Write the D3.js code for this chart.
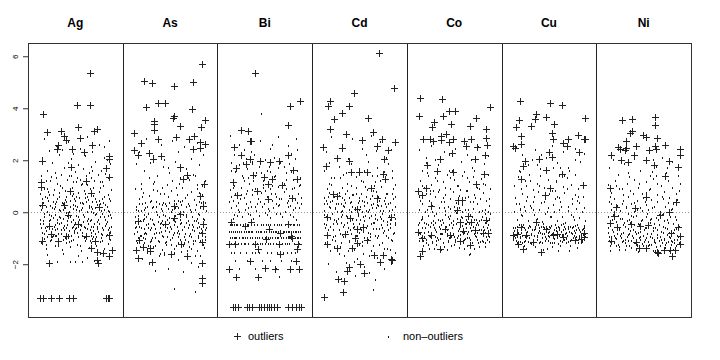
<!DOCTYPE html>
<html><head><meta charset="utf-8">
<script src="https://cdn.jsdelivr.net/npm/d3@7"></script>
<style>body{margin:0;background:#fff}text{font-family:"Liberation Sans",Arial,sans-serif}</style>
</head><body>
<svg id="c" width="720" height="360"></svg>
<script>
const elements = ["Ag","As","Bi","Cd","Co","Cu","Ni"];
const yTicks = [-2,0,2,4,6];
const legendLabels = ["outliers","non\u2013outliers"];
// [jitter (percent of panel width), value]
const agOut = [[15,5.36],[2,4.14],[15,4.14],[-34,3.78],[-30,3.09],[-15,3.13],[3,3.27],[23,3.21],[-12,2.92],[-10,2.79],[5,2.85],[20,3.12],[-18,2.58],[18,2.6],[-4,2.42],[9,2.32],[-19,2.45],[-35,1.96],[35,2.15],[35,2.06],[-5,1.73],[32,1.72],[35,1.36],[11,1.19],[-36,1.17],[-36,0.96],[-6,0.82],[17,0.74],[-35,0.26],[-12,0.27],[25,0.19],[-8,-0.12],[3,-0.47],[-28,-0.54],[36,-0.86],[-26,-0.85],[-10,-0.91],[11,-0.91],[-35,-1.12],[-18,-1.1],[21,-1.12],[17,-1.36],[39,-1.45],[29,-1.55],[23,-1.53],[35,-1.68],[23,-1.85],[24,-1.97],[-28,-1.95],[-37,-3.31],[-34,-3.31],[-26,-3.31],[-17,-3.31],[-7,-3.31],[-2,-3.31],[32,-3.31],[34,-3.31],[36,-3.31]];
const asOut = [[34,5.72],[-28,5.03],[-19,4.97],[4,4.86],[24,5.01],[-25,4.05],[-13,4.21],[-5,4.22],[23,3.99],[4,3.69],[3,3.62],[-17,3.51],[-17,3.41],[37,3.56],[11,3.33],[33,3.27],[-17,3.17],[-38,3.05],[6,2.9],[25,2.92],[20,2.83],[-13,2.81],[-31,2.68],[32,2.71],[37,2.64],[-38,2.4],[-22,2.27],[-34,2.19],[-10,2.15],[24,2.45],[32,2.47],[-18,2.04],[11,1.74],[18,1.45],[14,1.26],[36,1.1],[32,0.63],[4,0.24],[35,0.24],[10,-0.08],[4,-0.24],[-34,-0.32],[35,-0.45],[-5,-0.47],[34,-0.79],[-33,-1.05],[12,-1.21],[34,-1.14],[-29,-1.32],[-21,-1.37],[-36,-1.47],[-21,-1.51],[1,-1.62],[18,-1.67],[-34,-1.76],[-19,-1.91],[34,-1.96],[34,-2.53],[34,-2.72]];
const biOut = [[-10,5.36],[37,4.27],[27,4.08],[25,3.36],[-25,3.15],[-18,3.12],[-16,2.74],[-15,2.74],[-33,2.5],[-25,2.21],[-16,2.06],[-5,1.97],[5,1.92],[15,1.99],[24,2.19],[-30,1.72],[-20,1.85],[30,1.64],[-12,1.45],[-1,1.37],[8,1.29],[34,1.29],[-34,1.15],[3,1.09],[18,1.04],[-8,0.83],[-29,0.65],[29,0.53],[3,0.5],[-36,-0.37],[-15,-0.37],[25,-0.47],[-21,-0.54],[4,-0.63],[16,-0.78],[28,-0.91],[-38,-1.21],[-31,-1.21],[-10,-1.21],[15,-1.21],[35,-1.21],[1,-1.04],[29,-1.01],[-7,-1.4],[34,-1.4],[16,-1.62],[-16,-1.86],[33,-1.86],[-38,-2.17],[0,-2.15],[11,-2.17],[27,-2.17],[36,-2.17],[-30,-2.5],[-7,-2.5],[-34,-3.64],[-31,-3.64],[-28,-3.64],[-19,-3.64],[-17,-3.64],[-14,-3.64],[-6,-3.64],[-4,-3.64],[-1,-3.64],[2,-3.64],[4,-3.64],[7,-3.64],[10,-3.64],[13,-3.64],[25,-3.64],[29,-3.64],[33,-3.64],[36,-3.64],[38,-3.64]];
const cdOut = [[21,6.13],[36,4.77],[-6,4.6],[-31,4.28],[-33,4.08],[-11,4.08],[-19,3.82],[-27,3.58],[9,3.62],[-31,3.19],[14,3.09],[-14,3.0],[3,2.76],[24,2.81],[37,2.72],[-39,2.5],[-19,2.47],[18,2.55],[30,2.38],[26,2.03],[-11,1.97],[-24,2.08],[-35,1.77],[-9,1.55],[0,1.55],[8,1.55],[25,1.46],[27,1.28],[12,0.95],[-28,0.71],[-24,0.63],[18,0.53],[-3,0.14],[-34,-0.18],[33,-0.18],[-10,-0.24],[-3,-0.63],[4,-0.56],[-34,-0.88],[-15,-0.82],[-5,-1.01],[8,-1.05],[-34,-1.22],[-24,-1.36],[-8,-1.36],[-3,-1.18],[15,-1.65],[25,-1.65],[33,-1.78],[34,-1.85],[22,-1.91],[1,-2.01],[-11,-2.1],[-13,-2.26],[5,-2.32],[-23,-2.55],[-16,-2.63],[-17,-3.05],[-38,-3.27]];
const coOut = [[-36,4.4],[-13,4.37],[-37,3.71],[-12,3.71],[-5,3.9],[1,3.9],[38,4.04],[-21,3.47],[-23,3.27],[-3,3.4],[23,3.62],[17,3.31],[34,3.19],[-33,2.81],[-26,2.83],[-22,2.74],[-14,2.94],[-9,3.0],[-14,2.79],[-6,2.71],[-1,2.83],[10,2.73],[18,2.81],[34,2.86],[12,2.55],[24,2.5],[35,2.6],[-2,2.28],[-15,2.06],[22,2.06],[33,2.19],[-29,1.81],[-1,1.55],[-18,1.58],[31,1.49],[23,1.09],[-30,0.94],[-38,0.82],[-34,0.65],[4,0.46],[8,0.46],[-25,0.23],[3,0.08],[15,-0.15],[6,-0.37],[18,-0.37],[34,-0.28],[-10,-0.63],[9,-0.72],[22,-0.67],[30,-0.78],[36,-0.79],[-38,-0.76],[-24,-0.86],[-34,-1.01],[-4,-0.86],[6,-1.09],[-34,-1.5],[-36,-1.69],[-15,-1.4],[17,-1.27]];
const cuOut = [[-31,4.26],[1,4.19],[14,4.14],[-14,3.78],[-3,3.68],[38,3.63],[-32,3.55],[-15,3.59],[5,3.4],[-35,3.27],[-19,3.33],[-30,2.92],[-30,2.63],[3,3.06],[4,2.81],[31,2.96],[20,2.81],[15,2.68],[19,2.53],[38,2.81],[37,2.83],[-38,2.53],[-36,2.47],[32,2.33],[0,2.32],[-10,2.04],[3,2.13],[-25,1.97],[-27,1.77],[-3,1.64],[-29,1.26],[14,1.49],[1,0.95],[-4,0.65],[36,1.04],[-14,-0.37],[-29,-0.56],[-34,-0.82],[-24,-0.88],[-3,-0.63],[8,-0.82],[4,-0.88],[15,-0.95],[27,-1.08],[37,-0.78],[37,-0.95],[-38,-0.88],[-33,-1.23],[-27,-1.4],[-17,-1.14],[-8,-1.53],[34,-1.04]];
const niOut = [[-23,3.53],[-12,3.6],[12,3.65],[12,3.35],[-14,3.06],[-12,3.12],[-1,2.97],[3,2.88],[14,2.85],[-19,2.73],[-27,2.51],[-25,2.45],[-19,2.47],[-20,2.38],[-8,2.53],[12,2.53],[13,2.42],[6,2.4],[23,2.59],[38,2.42],[38,2.21],[-34,2.22],[-10,2.22],[-24,2.0],[-16,1.94],[3,2.0],[27,1.96],[11,1.81],[36,1.74],[23,1.4],[-36,0.94],[3,0.59],[34,0.4],[-29,0.21],[-9,0.18],[17,-0.09],[-31,-0.14],[-36,-0.41],[-13,-0.44],[5,-0.5],[-4,-0.54],[27,0.01],[36,-0.56],[29,-0.78],[-34,-1.12],[-8,-1.14],[38,-0.92],[38,-1.21],[-5,-1.37],[3,-1.37],[14,-1.53],[15,-1.56],[21,-1.46],[28,-1.46],[33,-1.44],[30,-1.69],[-28,-0.56]];

const agDots = [[-33,2.8],[-20,2.55],[-8,2.7],[5,2.45],[12,2.9],[25,2.6],[36,2.75],[-28,2.35],[18,2.3],[-14,2.4],[30,2.5],[-35,2.1],[-25,1.9],[-17,2.2],[-5,2.05],[3,1.8],[10,2.15],[21,1.95],[33,2.0],[-30,1.6],[-12,1.7],[0,1.55],[8,1.65],[17,1.75],[27,1.6],[37,1.85],[-22,1.5],[14,1.5],[-2,2.25],[-36,1.4],[-31,1.2],[-26,1.35],[-19,1.1],[-15,1.45],[-9,1.25],[-4,0.95],[2,1.3],[6,1.05],[11,1.4],[15,0.9],[20,1.2],[24,1.45],[29,1.0],[34,1.3],[38,0.85],[-33,0.9],[-23,0.85],[-11,0.8],[1,1.15],[9,0.82],[19,0.95],[26,1.15],[-7,1.38],[31,1.48],[-37,0.7],[-34,0.35],[-30,0.55],[-27,0.25],[-24,0.65],[-20,0.4],[-17,0.75],[-13,0.3],[-10,0.6],[-6,0.45],[-3,0.7],[0,0.25],[4,0.55],[7,0.35],[10,0.72],[13,0.48],[16,0.22],[19,0.62],[22,0.38],[25,0.78],[28,0.5],[31,0.28],[34,0.66],[37,0.42],[-21,0.2],[-1,0.5],[12,0.6],[-29,0.78],[23,0.27],[3,0.75],[-36,0.1],[-33,-0.2],[-30,0.0],[-28,-0.35],[-25,0.15],[-22,-0.1],[-19,-0.3],[-16,0.05],[-13,-0.25],[-11,0.18],[-8,-0.05],[-5,-0.38],[-2,0.12],[1,-0.15],[4,-0.3],[6,0.08],[9,-0.2],[12,0.0],[15,-0.33],[18,0.14],[21,-0.12],[24,-0.28],[27,0.06],[30,-0.18],[33,-0.36],[36,0.02],[38,-0.22],[-34,-0.32],[-9,-0.15],[8,-0.38],[19,-0.02],[-24,-0.22],[2,0.19],[28,-0.05],[-17,-0.18],[-37,-0.45],[-35,-0.8],[-32,-0.6],[-30,-0.95],[-28,-0.5],[-26,-0.75],[-23,-0.55],[-21,-0.9],[-19,-0.65],[-17,-0.45],[-15,-0.85],[-13,-0.6],[-11,-0.98],[-9,-0.5],[-7,-0.72],[-5,-0.9],[-3,-0.55],[-1,-0.8],[1,-0.62],[3,-0.95],[5,-0.48],[7,-0.78],[9,-0.58],[11,-0.88],[13,-0.46],[15,-0.7],[17,-0.92],[19,-0.55],[21,-0.82],[23,-0.64],[25,-0.44],[27,-0.98],[29,-0.7],[31,-0.52],[33,-0.86],[35,-0.6],[37,-0.76],[-25,-0.97],[0,-0.42],[16,-0.58],[-36,-1.2],[-31,-1.4],[-27,-1.1],[-22,-1.3],[-18,-1.05],[-14,-1.45],[-10,-1.18],[-6,-1.35],[-2,-1.08],[2,-1.25],[6,-1.48],[10,-1.12],[14,-1.38],[18,-1.02],[22,-1.28],[26,-1.15],[30,-1.42],[34,-1.22],[37,-1.05],[-33,-1.02],[-30,-1.65],[-19,-1.92],[-13,-1.6],[-6,-1.9],[3,-1.7],[0,-1.92],[7,-1.9],[12,-1.75],[20,-1.88],[26,-1.6]];
const agCore = [[-36,-0.62],[-33,-0.08],[-31,-0.72],[-29,0.42],[-27,-0.3],[-25,-0.66],[-23,0.12],[-21,-0.48],[-19,0.52],[-18,-0.82],[-16,-0.22],[-14,0.35],[-12,-0.7],[-10,-0.02],[-8,-0.88],[-6,0.2],[-4,-0.6],[-2,-0.28],[0,0.45],[2,-0.78],[4,0.05],[6,-0.52],[8,0.3],[10,-0.95],[12,-0.35],[14,0.15],[16,-0.8],[18,0.4],[20,-0.45],[22,-0.05],[24,-0.75],[26,0.32],[28,-0.62],[30,0.1],[32,-0.9],[34,-0.15],[36,0.5],[38,-0.55],[-37,0.25],[-35,-1.0],[-32,0.6],[-28,-0.12],[-26,-1.05],[-24,0.38],[-20,-0.92],[-17,0.1],[-15,-0.42],[-13,-1.08],[-11,0.48],[-9,-0.32],[-7,0.0],[-5,-1.12],[-3,0.28],[-1,-0.5],[1,0.58],[3,-0.18],[5,-0.68],[7,0.18],[9,-1.0],[11,0.4],[13,-0.25],[15,-1.1],[17,0.02],[19,-0.72],[21,0.5],[23,-0.38],[25,0.08],[27,-0.85],[29,0.36],[31,-0.3],[33,0.22],[35,-1.02],[37,-0.1],[-34,-0.45],[-22,-0.7],[-10,-0.6],[0,-0.65],[10,-0.6],[22,-0.95],[34,-0.7],[-30,0.9],[-16,1.0],[-3,1.15],[12,1.05],[26,0.95],[-20,1.3],[5,1.25],[18,1.6],[-8,1.9],[30,2.1]];
const agMore = [[-37.5,-0.3],[-35.5,0.5],[-33.5,-0.85],[-31.5,0.2],[-29.5,-0.55],[-27.5,0.65],[-25.5,-0.15],[-23.5,-0.92],[-21.5,0.3],[-19.5,-0.4],[-17.5,0.58],[-15.5,-0.7],[-13.5,0.08],[-11.5,-0.52],[-9.5,0.38],[-7.5,-1.0],[-5.5,-0.2],[-3.5,0.62],[-1.5,-0.72],[0.5,0.1],[2.5,-0.42],[4.5,0.35],[6.5,-0.9],[8.5,-0.1],[10.5,0.55],[12.5,-0.65],[14.5,0.25],[16.5,-0.3],[18.5,-0.95],[20.5,0.15],[22.5,-0.55],[24.5,0.45],[26.5,-0.2],[28.5,-0.88],[30.5,0.6],[32.5,-0.45],[34.5,0.05],[36.5,-0.8],[-36.5,1.0],[-26.5,1.2],[-14.5,0.95],[-4.5,1.4],[6.5,1.1],[16.5,1.3],[28.5,1.15],[-30.5,-1.25],[-18.5,-1.3],[-6.5,-1.15],[4.5,-1.3],[16.5,-1.2],[28.5,-1.1]];
const asDots = [[-25,2.8],[-10,2.6],[2,2.75],[15,2.5],[28,2.65],[-33,2.3],[-18,2.15],[8,2.3],[22,2.05],[35,2.2],[-36,1.85],[-28,1.6],[-21,1.9],[-14,1.4],[-7,1.75],[-1,1.5],[5,1.95],[11,1.3],[17,1.65],[24,1.45],[31,1.8],[37,1.2],[-31,1.1],[-17,1.15],[-3,1.05],[9,1.1],[20,1.25],[28,1.05],[-37,0.9],[-33,0.5],[-29,0.75],[-26,0.35],[-22,0.62],[-18,0.85],[-15,0.4],[-11,0.7],[-8,0.95],[-5,0.32],[-2,0.6],[1,0.82],[4,0.45],[7,0.68],[10,0.38],[13,0.92],[16,0.55],[19,0.3],[22,0.78],[25,0.48],[28,0.88],[31,0.4],[34,0.65],[37,0.35],[-20,0.42],[-36,0.2],[-34,-0.15],[-31,0.05],[-29,-0.28],[-26,0.15],[-23,-0.05],[-21,-0.25],[-18,0.22],[-15,0.0],[-12,-0.2],[-10,0.12],[-7,-0.1],[-4,0.25],[-1,-0.22],[2,0.08],[5,-0.15],[8,0.18],[11,-0.28],[14,0.02],[17,-0.12],[20,0.24],[23,-0.2],[26,0.1],[29,-0.08],[32,0.16],[35,-0.25],[38,0.04],[-8,0.28],[12,0.26],[-27,-0.1],[-37,-0.4],[-35,-0.75],[-33,-0.55],[-31,-0.92],[-29,-0.35],[-27,-0.65],[-25,-0.85],[-23,-0.45],[-21,-0.7],[-19,-0.98],[-17,-0.5],[-15,-0.8],[-13,-0.38],[-11,-0.62],[-9,-0.9],[-7,-0.48],[-5,-0.72],[-3,-0.95],[-1,-0.42],[1,-0.66],[3,-0.88],[5,-0.36],[7,-0.58],[9,-0.82],[11,-0.46],[13,-0.7],[15,-0.96],[17,-0.4],[19,-0.6],[21,-0.84],[23,-0.5],[25,-0.74],[27,-0.32],[29,-0.9],[31,-0.56],[33,-0.78],[35,-0.44],[37,-0.68],[-20,-0.6],[8,-0.72],[-36,-1.1],[-32,-1.35],[-28,-1.2],[-24,-1.55],[-20,-1.05],[-16,-1.3],[-12,-1.15],[-8,-1.45],[-4,-1.25],[0,-1.05],[4,-1.4],[8,-1.18],[12,-1.52],[16,-1.08],[20,-1.32],[24,-1.22],[28,-1.5],[32,-1.12],[36,-1.38],[-26,-1.02],[14,-1.28],[-6,-1.58],[-30,-1.8],[-22,-2.0],[-12,-1.7],[-2,-2.2],[8,-1.85],[14,-2.3],[22,-1.95],[30,-2.1],[26,-1.7],[-16,-2.25],[4,-2.97],[26,-3.05]];
const asCore = [[-37,-0.2],[-35,-1.2],[-33,0.3],[-31,-0.6],[-29,-1.0],[-27,0.1],[-25,-0.5],[-23,-1.3],[-21,0.4],[-19,-0.3],[-17,-0.85],[-15,0.2],[-13,-1.1],[-11,-0.45],[-9,0.05],[-7,-0.95],[-5,-0.15],[-3,-0.6],[-1,0.35],[1,-1.25],[3,-0.3],[5,0.15],[7,-0.8],[9,-0.05],[11,-1.05],[13,0.42],[15,-0.55],[17,-0.2],[19,-1.15],[21,0.1],[23,-0.7],[25,-0.35],[27,0.28],[29,-1.0],[31,-0.1],[33,-0.65],[35,0.38],[37,-0.95],[-36,-0.55],[-32,-0.9],[-28,-0.25],[-24,0.22],[-20,-1.1],[-16,-0.65],[-12,0.32],[-8,-0.35],[-4,-1.15],[0,-0.55],[4,-0.8],[8,0.45],[12,-0.4],[16,-0.85],[20,-0.5],[24,-1.1],[28,-0.6],[32,0.2],[36,-0.3],[-34,0.05],[-26,-0.8],[-18,-1.35],[-10,-0.75],[-2,0.12],[6,-1.3],[14,-0.1],[22,-0.95],[30,-0.42],[38,-0.6],[-30,0.6],[-14,0.8],[2,1.2],[18,0.65],[34,1.0],[-22,1.3],[10,1.6],[-6,2.0],[26,1.4],[-38,-0.82],[-6,-1.65],[18,-1.5],[32,-1.7]];
const asMore = [[-37.5,-0.6],[-35.5,0.1],[-33.5,-1.0],[-31.5,-0.35],[-29.5,0.3],[-27.5,-0.85],[-25.5,-0.2],[-23.5,-0.6],[-21.5,-1.15],[-19.5,0.15],[-17.5,-0.45],[-15.5,-1.0],[-13.5,-0.1],[-11.5,-0.8],[-9.5,-0.4],[-7.5,0.35],[-5.5,-1.2],[-3.5,-0.3],[-1.5,-0.75],[0.5,0.0],[2.5,-1.0],[4.5,-0.5],[6.5,0.3],[8.5,-0.95],[10.5,-0.2],[12.5,-0.7],[14.5,-1.2],[16.5,0.2],[18.5,-0.35],[20.5,-0.9],[22.5,0.0],[24.5,-0.55],[26.5,-1.1],[28.5,-0.25],[30.5,-0.8],[32.5,0.35],[34.5,-0.5],[36.5,-1.05],[-30.5,0.9],[-18.5,1.1],[-6.5,0.7],[6.5,0.95],[18.5,1.3],[30.5,0.75],[-24.5,-1.45],[-10.5,-1.6],[4.5,-1.55],[22.5,-1.4],[34.5,-1.25],[-2.5,1.7]];
const biDots = [[-37,2.95],[-27,2.6],[-15,2.3],[-5,2.75],[5,2.45],[14,2.9],[24,2.55],[33,2.8],[-32,2.2],[-20,2.05],[10,2.1],[28,2.25],[-4,3.79],[-36,1.9],[-31,1.55],[-27,1.8],[-23,1.3],[-19,1.65],[-14,1.95],[-10,1.4],[-6,1.75],[-2,1.2],[2,1.6],[6,1.85],[10,1.35],[14,1.7],[18,1.1],[22,1.5],[26,1.85],[30,1.25],[34,1.6],[37,1.05],[-34,1.15],[-17,1.08],[8,1.02],[-37,0.85],[-34,0.45],[-31,0.7],[-28,0.35],[-25,0.95],[-22,0.55],[-19,0.8],[-16,0.4],[-13,0.65],[-10,0.9],[-7,0.5],[-4,0.75],[-1,0.32],[2,0.6],[5,0.88],[8,0.42],[11,0.7],[14,0.98],[17,0.52],[20,0.78],[23,0.36],[26,0.62],[29,0.9],[32,0.46],[35,0.72],[38,0.55],[-20,0.3],[12,0.33],[-36,0.15],[-33,-0.1],[-30,0.25],[-27,0.0],[-24,-0.2],[-21,0.1],[-18,-0.05],[-15,0.2],[-12,-0.25],[-9,0.05],[-6,-0.15],[-3,0.22],[0,-0.02],[3,0.12],[6,-0.22],[9,0.18],[12,-0.08],[15,0.28],[18,-0.18],[21,0.02],[24,0.2],[27,-0.12],[30,0.08],[33,-0.28],[36,0.16],[-37,-0.5],[-33,-0.5],[-26,-0.5],[-23,-0.5],[-15,-0.5],[-11,-0.5],[-4,-0.5],[1,-0.5],[6,-0.5],[10,-0.5],[17,-0.5],[21,-0.5],[27,-0.5],[31,-0.5],[36,-0.5],[-36,-0.75],[-34,-0.75],[-29,-0.75],[-25,-0.75],[-20,-0.75],[-18,-0.75],[-13,-0.75],[-9,-0.75],[-5,-0.75],[-1,-0.75],[4,-0.75],[9,-0.75],[12,-0.75],[16,-0.75],[22,-0.75],[26,-0.75],[30,-0.75],[35,-0.75],[-35,-1],[-30,-1],[-24,-1],[-21,-1],[-16,-1],[-10,-1],[-6,-1],[0,-1],[5,-1],[11,-1],[19,-1],[24,-1],[29,-1],[34,-1],[-28,-1.21],[-22,-1.21],[-18,-1.21],[-8,-1.21],[-3,-1.21],[3,-1.21],[9,-1.21],[15,-1.21],[21,-1.21],[31,-1.21],[-33,-1.55],[-26,-1.55],[-14,-1.55],[-6,-1.55],[7,-1.55],[13,-1.55],[23,-1.55],[32,-1.55],[-31,-1.86],[-19,-1.86],[-3,-1.86],[6,-1.86],[17,-1.86],[28,-1.86],[-27,-2.17],[-10,-2.17],[12,-2.17],[15,-2.49]];
const biCore = [[-35,-0.5],[-29,-0.5],[-19,-0.5],[-8,-0.5],[3,-0.5],[13,-0.5],[24,-0.5],[34,-0.5],[-38,-0.75],[-31,-0.75],[-22,-0.75],[-15,-0.75],[-7,-0.75],[1,-0.75],[7,-0.75],[14,-0.75],[19,-0.75],[24,-0.75],[28,-0.75],[33,-0.75],[37,-0.75],[-37,-1],[-33,-1],[-27,-1],[-19,-1],[-13,-1],[-3,-1],[3,-1],[8,-1],[14,-1],[17,-1],[22,-1],[27,-1],[32,-1],[37,-1],[-36,-1.21],[-33,-1.21],[-25,-1.21],[-12,-1.21],[0,-1.21],[6,-1.21],[12,-1.21],[18,-1.21],[26,-1.21],[36,-1.21],[-36,-1.55],[-20,-1.55],[-10,-1.55],[2,-1.55],[19,-1.55],[28,-1.55],[-36,0.6],[-32,1.0],[-28,0.1],[-24,1.4],[-20,0.7],[-16,-0.1],[-12,1.2],[-8,0.3],[-4,1.5],[0,0.8],[4,0.05],[8,1.25],[12,0.6],[16,-0.05],[20,1.1],[24,0.45],[28,1.55],[32,0.15],[36,1.0],[-34,-0.25],[-26,0.5],[-18,1.3],[-10,0.2],[-2,0.95],[6,1.55],[14,0.25],[22,0.9],[30,-0.2],[38,0.3],[-30,1.7],[-14,1.85],[0,2.0],[16,1.9],[32,2.05],[-22,2.4],[8,2.6]];
const biMore = [[-37.5,-0.75],[-27.5,-0.75],[-16.5,-0.75],[-3.5,-0.75],[10.5,-0.75],[20.5,-0.75],[31.5,-0.75],[-31.5,-1],[-22.5,-1],[-8.5,-1],[1.5,-1],[12.5,-1],[25.5,-1],[35.5,-1],[-30.5,-0.5],[-17.5,-0.5],[-1.5,-0.5],[15.5,-0.5],[29.5,-0.5],[-20.5,-1.21],[-5.5,-1.21],[23.5,-1.21],[-37.5,0.4],[-33.5,0.95],[-29.5,-0.15],[-25.5,0.65],[-21.5,1.2],[-17.5,0.15],[-13.5,0.85],[-9.5,1.5],[-5.5,0.4],[-1.5,1.05],[2.5,-0.1],[6.5,0.7],[10.5,1.4],[14.5,0.5],[18.5,-0.2],[22.5,1.25],[26.5,0.25],[30.5,0.95],[34.5,0.35],[37.5,1.3],[-35.5,1.6],[-23.5,1.9],[-11.5,2.2],[4.5,1.75],[20.5,1.75],[33.5,2.4]];
const cdDots = [[-30,2.9],[-18,2.6],[-8,2.8],[3,2.45],[12,2.95],[22,2.7],[33,2.4],[-35,2.3],[-24,2.15],[-12,2.05],[7,2.2],[17,2.35],[28,2.1],[37,2.6],[-37,1.6],[-32,1.9],[-27,1.3],[-22,1.75],[-17,1.45],[-13,1.1],[-9,1.85],[-4,1.35],[0,1.65],[4,1.15],[9,1.95],[13,1.4],[18,1.7],[22,1.2],[26,1.55],[30,1.85],[34,1.3],[38,1.05],[-30,1.05],[15,1.02],[-37,0.55],[-34,0.9],[-31,0.4],[-28,0.75],[-25,0.32],[-22,0.62],[-19,0.95],[-16,0.48],[-13,0.8],[-10,0.35],[-7,0.66],[-4,0.92],[-1,0.45],[2,0.72],[5,0.38],[8,0.85],[11,0.52],[14,0.3],[17,0.78],[20,0.58],[23,0.96],[26,0.42],[29,0.7],[32,0.34],[35,0.88],[38,0.6],[-20,0.3],[6,0.98],[-38,0.05],[-35,-0.2],[-32,0.2],[-29,-0.08],[-26,0.12],[-23,-0.25],[-20,0.0],[-17,0.25],[-14,-0.15],[-11,0.1],[-8,-0.28],[-5,0.18],[-2,-0.05],[1,0.22],[4,-0.18],[7,0.06],[10,-0.24],[13,0.15],[16,-0.1],[19,0.28],[22,-0.2],[25,0.04],[28,0.2],[31,-0.14],[34,0.1],[37,-0.26],[-27,-0.28],[-9,0.02],[12,0.28],[24,-0.05],[3,0.0],[-18,-0.12],[-37,-0.45],[-34,-0.8],[-31,-0.55],[-28,-0.95],[-25,-0.38],[-22,-0.68],[-19,-0.88],[-16,-0.5],[-13,-0.75],[-10,-0.35],[-7,-0.62],[-4,-0.92],[-1,-0.45],[2,-0.7],[5,-0.98],[8,-0.52],[11,-0.82],[14,-0.4],[17,-0.65],[20,-0.9],[23,-0.48],[26,-0.72],[29,-0.36],[32,-0.6],[35,-0.85],[38,-0.5],[-20,-0.4],[0,-0.8],[18,-0.3],[30,-0.98],[-36,-1.2],[-31,-1.5],[-26,-1.1],[-21,-1.35],[-16,-1.7],[-11,-1.15],[-6,-1.45],[-1,-1.25],[4,-1.6],[9,-1.05],[14,-1.3],[19,-1.75],[24,-1.2],[29,-1.4],[34,-1.1],[37,-1.55],[-3,-1.78],[12,-1.5],[-33,-2.0],[-25,-2.3],[-14,-1.95],[-5,-2.45],[5,-2.1],[16,-2.6],[26,-2.2],[33,-2.0],[-20,-2.55],[10,-2.35],[14,-3.0]];
const cdCore = [[-37,-0.1],[-35,0.45],[-33,-0.7],[-31,0.15],[-29,-1.05],[-27,0.6],[-25,-0.35],[-23,0.3],[-21,-0.85],[-19,0.05],[-17,-0.55],[-15,0.7],[-13,-0.2],[-11,-1.1],[-9,0.4],[-7,-0.45],[-5,0.1],[-3,-0.9],[-1,0.55],[1,-0.3],[3,-1.15],[5,0.25],[7,-0.6],[9,0.0],[11,-0.95],[13,0.62],[15,-0.4],[17,0.15],[19,-1.0],[21,0.42],[23,-0.25],[25,-0.8],[27,0.3],[29,-0.5],[31,0.05],[33,-1.08],[35,0.5],[37,-0.4],[-36,-0.6],[-32,0.75],[-28,-0.45],[-24,0.0],[-20,-1.2],[-16,0.2],[-12,-0.6],[-8,0.65],[-4,-0.3],[0,0.1],[4,-0.75],[8,0.35],[12,-0.15],[16,-0.9],[20,0.25],[24,-0.6],[28,0.7],[32,-0.3],[36,-0.8],[-34,0.3],[-26,-0.9],[-18,0.55],[-10,-0.7],[-2,0.35],[6,-0.15],[14,-0.65],[22,0.05],[30,-0.7],[38,0.2],[-30,1.3],[-14,1.5],[2,1.2],[18,1.4],[34,1.6],[-22,-1.6],[-6,-1.9],[10,-1.7],[26,-1.4]];
const cdMore = [[-37.5,0.3],[-35.5,-0.5],[-33.5,0.6],[-31.5,-0.25],[-29.5,0.45],[-27.5,-0.7],[-25.5,0.15],[-23.5,-0.45],[-21.5,0.75],[-19.5,-0.2],[-17.5,-0.95],[-15.5,0.35],[-13.5,-0.4],[-11.5,0.55],[-9.5,-0.85],[-7.5,0.2],[-5.5,-0.55],[-3.5,0.7],[-1.5,-0.15],[0.5,-0.6],[2.5,0.45],[4.5,-0.35],[6.5,0.6],[8.5,-0.8],[10.5,0.1],[12.5,-0.45],[14.5,0.8],[16.5,-0.25],[18.5,0.4],[20.5,-0.65],[22.5,0.25],[24.5,-0.35],[26.5,0.55],[28.5,-0.9],[30.5,0.3],[32.5,-0.45],[34.5,0.7],[36.5,-0.1],[-32.5,1.1],[-20.5,1.3],[-8.5,1.0],[4.5,1.6],[16.5,1.15],[28.5,1.45],[-26.5,-1.35],[-12.5,-1.5],[2.5,-1.3],[20.5,-1.25],[32.5,-1.45]];
const coDots = [[-37,2.4],[-30,2.1],[-24,2.55],[-17,1.8],[-11,2.3],[-5,1.6],[1,2.45],[7,1.95],[13,2.2],[19,1.7],[25,2.5],[31,1.85],[36,2.15],[-34,1.6],[-20,2.0],[10,1.55],[-36,1.2],[-32,0.95],[-28,1.4],[-24,1.05],[-20,1.3],[-16,0.85],[-12,1.15],[-8,1.45],[-4,0.9],[0,1.25],[4,1.0],[8,1.4],[12,0.82],[16,1.18],[20,1.35],[24,0.92],[28,1.28],[32,1.05],[36,1.42],[-26,0.82],[-37,0.6],[-34,0.3],[-30,0.72],[-27,0.45],[-23,0.25],[-20,0.58],[-17,0.78],[-14,0.38],[-10,0.65],[-7,0.22],[-4,0.5],[-1,0.76],[2,0.35],[5,0.62],[8,0.28],[11,0.55],[14,0.8],[17,0.4],[21,0.68],[24,0.3],[27,0.52],[30,0.75],[34,0.42],[37,0.25],[-37,0.1],[-34,-0.25],[-31,0.0],[-28,-0.15],[-25,0.15],[-22,-0.35],[-19,-0.05],[-16,0.18],[-13,-0.28],[-10,0.05],[-7,-0.18],[-4,0.12],[-1,-0.32],[2,-0.02],[5,0.16],[8,-0.22],[11,0.08],[14,-0.38],[17,-0.1],[20,0.14],[23,-0.3],[26,0.02],[29,-0.2],[32,0.1],[35,-0.34],[38,-0.05],[-20,-0.4],[0,0.19],[-38,-0.5],[-36,-0.85],[-34,-0.62],[-32,-0.95],[-30,-0.45],[-28,-0.75],[-26,-0.58],[-24,-0.9],[-22,-0.48],[-20,-0.7],[-18,-0.98],[-16,-0.55],[-14,-0.82],[-12,-0.42],[-10,-0.68],[-8,-0.92],[-6,-0.5],[-4,-0.78],[-2,-0.6],[0,-0.95],[2,-0.45],[4,-0.72],[6,-0.88],[8,-0.52],[10,-0.8],[12,-0.62],[14,-0.98],[16,-0.46],[18,-0.74],[20,-0.58],[22,-0.9],[24,-0.42],[26,-0.68],[28,-0.85],[30,-0.55],[32,-0.78],[34,-0.95],[36,-0.48],[38,-0.7],[-15,-0.65],[-37,-1.1],[-33,-1.3],[-30,-1.05],[-27,-1.4],[-23,-1.15],[-19,-1.25],[-15,-1.02],[-11,-1.35],[-7,-1.12],[-3,-1.28],[1,-1.05],[5,-1.38],[9,-1.18],[13,-1.3],[17,-1.08],[21,-1.42],[25,-1.2],[29,-1.1],[33,-1.32],[37,-1.15],[-21,-1.4],[11,-1.02],[16,-1.65],[17,-1.6],[-8,-1.45]];
const coCore = [[-37,-0.8],[-35,-0.3],[-33,-1.1],[-31,-0.6],[-29,0.1],[-27,-0.9],[-25,-0.4],[-23,-1.2],[-21,-0.15],[-19,-0.75],[-17,-1.05],[-15,-0.35],[-13,-0.85],[-11,0.15],[-9,-0.55],[-7,-1.15],[-5,-0.25],[-3,-0.95],[-1,-0.5],[1,0.05],[3,-1.0],[5,-0.65],[7,-0.2],[9,-1.1],[11,-0.45],[13,-0.85],[15,0.1],[17,-0.6],[19,-1.2],[21,-0.3],[23,-0.95],[25,-0.5],[27,-1.15],[29,0.05],[31,-0.7],[33,-0.4],[35,-1.05],[37,-0.25],[-36,0.45],[-32,-0.4],[-28,-1.25],[-24,0.35],[-20,-0.95],[-16,-0.55],[-12,0.55],[-8,-0.85],[-4,-0.15],[0,-1.25],[4,0.3],[8,-0.75],[12,-0.3],[16,-1.0],[20,0.4],[24,-0.8],[28,-0.3],[32,-1.2],[36,0.0],[-34,1.0],[-26,0.7],[-18,1.2],[-10,0.95],[-2,1.6],[6,0.85],[14,1.3],[22,0.55],[30,1.1],[38,0.9],[-30,1.9],[-6,2.2],[18,2.0],[-14,-1.45],[10,-1.4],[26,-1.35]];
const coMore = [[-37.5,-0.4],[-35.5,-1.0],[-33.5,-0.2],[-31.5,-0.8],[-29.5,-1.2],[-27.5,-0.5],[-25.5,-0.95],[-23.5,0.0],[-21.5,-0.6],[-19.5,-1.1],[-17.5,-0.3],[-15.5,-0.85],[-13.5,-0.5],[-11.5,-1.2],[-9.5,-0.1],[-7.5,-0.7],[-5.5,-1.0],[-3.5,-0.4],[-1.5,-0.85],[0.5,-1.15],[2.5,-0.25],[4.5,-0.9],[6.5,-0.55],[8.5,0.0],[10.5,-1.05],[12.5,-0.45],[14.5,-0.75],[16.5,-1.2],[18.5,-0.2],[20.5,-0.85],[22.5,-0.5],[24.5,-1.05],[26.5,-0.35],[28.5,-0.7],[30.5,-1.15],[32.5,-0.05],[34.5,-0.6],[36.5,-0.95],[-34.5,0.55],[-22.5,0.8],[-10.5,0.4],[2.5,1.0],[14.5,0.6],[26.5,0.9],[36.5,0.5],[-28.5,1.5],[-4.5,1.3],[20.5,1.6]];
const cuDots = [[-35,2.5],[-28,2.2],[-22,1.8],[-15,2.4],[-9,1.65],[-3,2.1],[3,2.55],[9,1.9],[15,2.3],[21,1.6],[27,2.45],[33,1.95],[37,2.25],[-31,1.55],[-18,2.0],[12,1.7],[-37,1.0],[-33,1.35],[-29,0.9],[-25,1.2],[-21,1.45],[-17,0.85],[-13,1.1],[-9,1.4],[-5,0.95],[-1,1.25],[3,0.82],[7,1.15],[11,1.38],[15,0.98],[19,1.3],[23,1.05],[27,1.42],[31,0.88],[-36,0.55],[-32,0.3],[-28,0.7],[-24,0.45],[-20,0.25],[-16,0.6],[-12,0.78],[-8,0.35],[-4,0.52],[0,0.72],[4,0.28],[8,0.58],[12,0.4],[16,0.75],[20,0.22],[24,0.5],[28,0.68],[32,0.35],[36,0.6],[-26,0.2],[6,0.8],[30,0.45],[-37,0.0],[-34,-0.3],[-31,0.12],[-28,-0.15],[-25,0.05],[-22,-0.35],[-19,0.15],[-16,-0.1],[-13,-0.25],[-10,0.08],[-7,-0.38],[-4,-0.05],[-1,0.18],[2,-0.2],[5,0.02],[8,-0.32],[11,0.1],[14,-0.18],[17,-0.4],[20,0.06],[23,-0.12],[26,-0.28],[29,0.14],[32,-0.22],[35,0.0],[38,-0.35],[-38,-0.6],[-37,-0.9],[-35,-1.1],[-34,-0.7],[-32,-0.5],[-31,-1.0],[-29,-0.8],[-28,-1.2],[-26,-0.62],[-25,-0.95],[-23,-0.75],[-22,-1.15],[-20,-0.55],[-19,-0.88],[-17,-1.05],[-16,-0.68],[-14,-0.48],[-13,-0.92],[-11,-1.2],[-10,-0.72],[-8,-0.58],[-7,-1.0],[-5,-0.82],[-4,-1.12],[-2,-0.65],[-1,-0.9],[1,-1.18],[2,-0.52],[4,-0.78],[5,-1.02],[7,-0.62],[8,-0.95],[10,-1.22],[11,-0.7],[13,-0.5],[14,-0.86],[16,-1.08],[17,-0.66],[19,-0.92],[20,-1.16],[22,-0.58],[23,-0.8],[25,-1.0],[26,-0.72],[28,-0.52],[29,-0.96],[31,-1.2],[32,-0.68],[34,-0.88],[35,-1.05],[37,-0.6],[38,-0.82],[-6,-0.45],[0,-0.75],[15,-0.45],[-33,-1.3],[-24,-1.4],[-15,-1.32],[-6,-1.45],[3,-1.35],[12,-1.28],[21,-1.48],[30,-1.36]];
const cuCore = [[-37,-0.72],[-36,-1.0],[-34,-0.55],[-33,-0.85],[-31,-1.15],[-30,-0.65],[-28,-0.9],[-27,-0.5],[-25,-1.1],[-24,-0.78],[-22,-0.6],[-21,-0.98],[-19,-1.22],[-18,-0.7],[-16,-0.9],[-15,-0.55],[-13,-1.05],[-12,-0.8],[-10,-0.62],[-9,-1.15],[-7,-0.85],[-6,-0.55],[-4,-0.95],[-3,-0.72],[-1,-1.1],[0,-0.58],[2,-0.88],[3,-1.2],[5,-0.7],[6,-0.5],[8,-1.0],[9,-0.78],[11,-0.6],[12,-1.12],[14,-0.95],[15,-0.68],[17,-0.85],[18,-1.2],[20,-0.55],[21,-0.75],[23,-1.05],[24,-0.62],[26,-0.9],[27,-1.18],[29,-0.7],[30,-0.5],[32,-0.98],[33,-0.75],[35,-1.15],[36,-0.65],[38,-0.95],[-35,0.3],[-29,-0.1],[-23,0.6],[-17,0.1],[-11,1.0],[-5,0.4],[1,-0.2],[7,1.2],[13,0.2],[19,0.9],[25,-0.2],[31,0.6],[37,0.15],[-32,1.6],[-20,1.2],[-8,2.2],[4,1.7],[16,1.4],[28,2.0],[-26,-1.3],[-2,-1.4],[10,-1.5],[22,-1.3]];
const cuMore = [[-37.5,-1.05],[-35.5,-0.6],[-33.5,-1.2],[-32.5,-0.8],[-30.5,-0.95],[-28.5,-0.55],[-26.5,-1.15],[-25.5,-0.7],[-23.5,-0.9],[-21.5,-0.52],[-20.5,-1.2],[-18.5,-0.82],[-16.5,-1.05],[-14.5,-0.65],[-12.5,-0.95],[-11.5,-0.5],[-9.5,-0.8],[-7.5,-1.2],[-5.5,-0.62],[-3.5,-1.02],[-1.5,-0.78],[0.5,-0.95],[1.5,-0.6],[3.5,-0.85],[5.5,-1.18],[7.5,-0.72],[9.5,-0.55],[10.5,-0.92],[12.5,-0.75],[13.5,-1.15],[15.5,-0.58],[17.5,-1.02],[18.5,-0.8],[20.5,-0.65],[22.5,-1.1],[24.5,-0.85],[25.5,-0.55],[27.5,-0.78],[28.5,-1.08],[30.5,-0.62],[31.5,-0.9],[33.5,-1.18],[34.5,-0.7],[36.5,-0.88],[37.5,-0.52],[-30.5,0.1],[-16.5,0.4],[-2.5,0.0],[10.5,0.55],[24.5,0.3],[-24.5,1.0],[6.5,0.5],[20.5,1.7],[-12.5,1.8]];
const niDots = [[-37,1.7],[-32,2.0],[-27,1.45],[-21,1.85],[-15,1.35],[-10,2.05],[-4,1.6],[2,1.9],[7,1.4],[13,1.75],[19,2.1],[24,1.5],[30,1.95],[36,1.65],[-24,2.05],[10,2.0],[-38,1.05],[-34,0.75],[-30,1.2],[-26,0.9],[-22,0.65],[-18,1.1],[-14,0.8],[-10,1.25],[-6,0.95],[-2,0.7],[2,1.15],[6,0.85],[10,1.28],[14,0.68],[18,1.0],[22,0.78],[26,1.22],[30,0.92],[34,0.72],[38,1.1],[-37,0.4],[-34,0.1],[-31,0.52],[-28,0.25],[-25,0.05],[-22,0.45],[-19,0.18],[-16,0.58],[-13,0.3],[-10,0.02],[-7,0.42],[-4,0.15],[-1,0.55],[2,0.28],[5,0.08],[8,0.48],[11,0.2],[14,0.38],[17,0.02],[20,0.5],[23,0.22],[26,0.35],[30,0.12],[35,0.46],[-38,-0.2],[-35,-0.5],[-32,-0.1],[-29,-0.38],[-26,-0.65],[-23,-0.25],[-20,-0.55],[-17,-0.05],[-14,-0.42],[-11,-0.68],[-8,-0.15],[-5,-0.48],[-2,-0.3],[1,-0.6],[4,-0.08],[7,-0.4],[10,-0.62],[13,-0.22],[16,-0.5],[19,-0.12],[22,-0.35],[25,-0.66],[28,-0.18],[31,-0.45],[34,-0.28],[37,-0.58],[-15,-0.3],[8,-0.25],[-38,-0.8],[-37,-1.1],[-35,-1.3],[-34,-0.95],[-32,-0.75],[-31,-1.2],[-29,-1.02],[-28,-0.85],[-26,-1.35],[-25,-0.9],[-23,-1.15],[-22,-0.78],[-20,-1.05],[-19,-1.28],[-17,-0.88],[-16,-1.12],[-14,-0.72],[-13,-1.38],[-11,-0.98],[-10,-1.18],[-8,-0.82],[-7,-1.3],[-5,-1.0],[-4,-0.76],[-2,-1.22],[-1,-0.92],[1,-1.08],[2,-1.35],[4,-0.84],[5,-1.15],[7,-0.96],[8,-1.25],[10,-0.74],[11,-1.05],[13,-1.32],[14,-0.86],[16,-1.1],[17,-0.94],[19,-1.2],[20,-0.8],[22,-1.02],[23,-1.36],[25,-0.88],[26,-1.14],[28,-0.98],[29,-1.26],[31,-0.78],[32,-1.08],[34,-1.3],[35,-0.92],[37,-1.18],[38,-1.0],[-36,-1.5],[-20,-1.45],[-6,-1.52],[12,-1.48],[27,-1.5]];
const niCore = [[-37,-0.95],[-36,-0.4],[-34,-1.2],[-33,-0.7],[-31,0.0],[-30,-1.0],[-28,-0.55],[-27,-1.25],[-25,-0.25],[-24,-0.85],[-22,-1.1],[-21,-0.4],[-19,0.2],[-18,-0.95],[-16,-0.65],[-15,-1.3],[-13,-0.15],[-12,-0.9],[-10,-0.5],[-9,-1.2],[-7,0.1],[-6,-0.8],[-4,-1.05],[-3,-0.35],[-1,-1.3],[0,-0.7],[2,-0.2],[3,-1.0],[5,-0.5],[6,-1.25],[8,-0.85],[9,0.15],[11,-1.15],[12,-0.6],[14,-1.0],[15,-0.3],[17,-1.3],[18,-0.75],[20,-0.05],[21,-1.05],[23,-0.6],[24,-1.2],[26,-0.4],[27,-0.95],[29,0.1],[30,-1.15],[32,-0.7],[33,-0.2],[35,-1.05],[36,-0.5],[38,-1.25],[-35,0.6],[-29,1.0],[-23,0.3],[-17,1.5],[-11,0.7],[-5,1.1],[1,0.4],[7,0.9],[13,1.4],[19,0.6],[25,1.7],[31,0.3],[37,0.8],[-26,-1.45],[-8,-1.45],[10,-1.5],[31,-1.45]];
const niMore = [[-37.5,-0.6],[-35.5,-1.15],[-33.5,-0.3],[-31.5,-0.9],[-29.5,-1.3],[-27.5,-0.15],[-25.5,-0.7],[-23.5,-1.0],[-21.5,-0.5],[-19.5,-1.2],[-17.5,-0.35],[-15.5,-0.85],[-13.5,-1.1],[-11.5,-0.2],[-9.5,-0.75],[-7.5,-1.25],[-5.5,-0.45],[-3.5,-0.95],[-1.5,0.05],[0.5,-1.15],[2.5,-0.6],[4.5,-1.3],[6.5,-0.3],[8.5,-1.0],[10.5,-0.45],[12.5,-1.2],[14.5,-0.7],[16.5,-0.1],[18.5,-1.05],[20.5,-0.55],[22.5,-1.25],[24.5,-0.3],[26.5,-0.8],[28.5,-1.1],[30.5,-0.45],[32.5,-1.2],[34.5,-0.65],[36.5,-0.95],[-34.5,0.3],[-22.5,0.9],[-10.5,0.35],[2.5,0.75],[14.5,1.1],[26.5,0.55],[36.5,1.4],[-16.5,1.8],[8.5,1.55]];

const outTable = {Ag:agOut, As:asOut, Bi:biOut, Cd:cdOut, Co:coOut, Cu:cuOut, Ni:niOut};
const dotTable = {
  Ag: agDots.concat(agCore, agMore), As: asDots.concat(asCore, asMore), Bi: biDots.concat(biCore, biMore),
  Cd: cdDots.concat(cdCore, cdMore), Co: coDots.concat(coCore, coMore), Cu: cuDots.concat(cuCore, cuMore),
  Ni: niDots.concat(niCore, niMore)
};

const svg = d3.select("#c");
const pLeft = 28, pRight = 691, pTop = 43, pBottom = 317;
const x = d3.scaleBand().domain(elements).range([pLeft, pRight]).padding(0);
const jit = d3.scaleLinear().domain([-50, 50]).range([0, x.bandwidth()]);
const y = d3.scaleLinear().domain([-4.03, 6.51]).range([pBottom, pTop]);

// zero reference line
svg.append("line").attr("x1", pLeft).attr("x2", pRight)
  .attr("y1", Math.round(y(0)) + 0.5).attr("y2", Math.round(y(0)) + 0.5)
  .attr("stroke", "#999").attr("stroke-width", 1).attr("stroke-dasharray", "1,2");

const plus = "M-3.5,0H3.5M0,-3.5V3.5";
elements.forEach(el => {
  const g = svg.append("g");
  g.selectAll("rect.d").data(dotTable[el]).join("rect")
    .attr("x", d => Math.round(x(el) + jit(d[0])))
    .attr("y", d => Math.round(y(d[1]) - 1))
    .attr("width", 1).attr("height", 2).attr("fill", "#1a1a1a")
    .attr("shape-rendering", "crispEdges");
  g.selectAll("path.o").data(outTable[el]).join("path")
    .attr("d", plus)
    .attr("transform", d => `translate(${Math.round(x(el) + jit(d[0])) + 0.5},${Math.round(y(d[1])) + 0.5})`)
    .attr("stroke", "#222").attr("stroke-width", 1).attr("fill", "none");
  svg.append("text").attr("x", x(el) + x.bandwidth() / 2).attr("y", 27)
    .attr("text-anchor", "middle").attr("font-weight", "bold").attr("font-size", 12)
    .text(el);
});

// panel separators
svg.selectAll("line.sep").data(elements.slice(1)).join("line")
  .attr("x1", d => Math.round(x(d)) + 0.5).attr("x2", d => Math.round(x(d)) + 0.5)
  .attr("y1", pTop).attr("y2", pBottom).attr("stroke", "#222");
// outer box
svg.append("rect").attr("x", pLeft + 0.5).attr("y", pTop + 0.5)
  .attr("width", pRight - pLeft).attr("height", pBottom - pTop)
  .attr("fill", "none").attr("stroke", "#333");

// y axis
const ax = svg.append("g").attr("transform", `translate(${pLeft},0)`)
  .call(d3.axisLeft(y).tickValues(yTicks).tickSize(5).tickPadding(4).tickFormat(d3.format("d")));
ax.select(".domain").remove();
ax.selectAll(".tick line").attr("stroke", "#333");
ax.selectAll(".tick text").attr("font-size", 8).attr("fill", "#000")
  .attr("font-family", "'Liberation Sans', Arial, sans-serif")
  .attr("text-anchor", "middle").attr("x", 0).attr("y", 0)
  .attr("transform", "translate(-13,0) rotate(-90)").attr("dy", "0.32em")
  .text(d => d < 0 ? "\u2212" + Math.abs(d) : d);

// legend
const lg = svg.append("g");
lg.append("path").attr("d", plus).attr("transform", "translate(237.5,336.5)")
  .attr("stroke", "#222").attr("stroke-width", 1).attr("fill", "none");
lg.append("text").attr("x", 248).attr("y", 339.5).attr("font-size", 11).text(legendLabels[0]);
lg.append("rect").attr("x", 388).attr("y", 336).attr("width", 1).attr("height", 2).attr("fill", "#1a1a1a");
lg.append("text").attr("x", 403).attr("y", 339.5).attr("font-size", 11).text(legendLabels[1]);
</script>
</body></html>
